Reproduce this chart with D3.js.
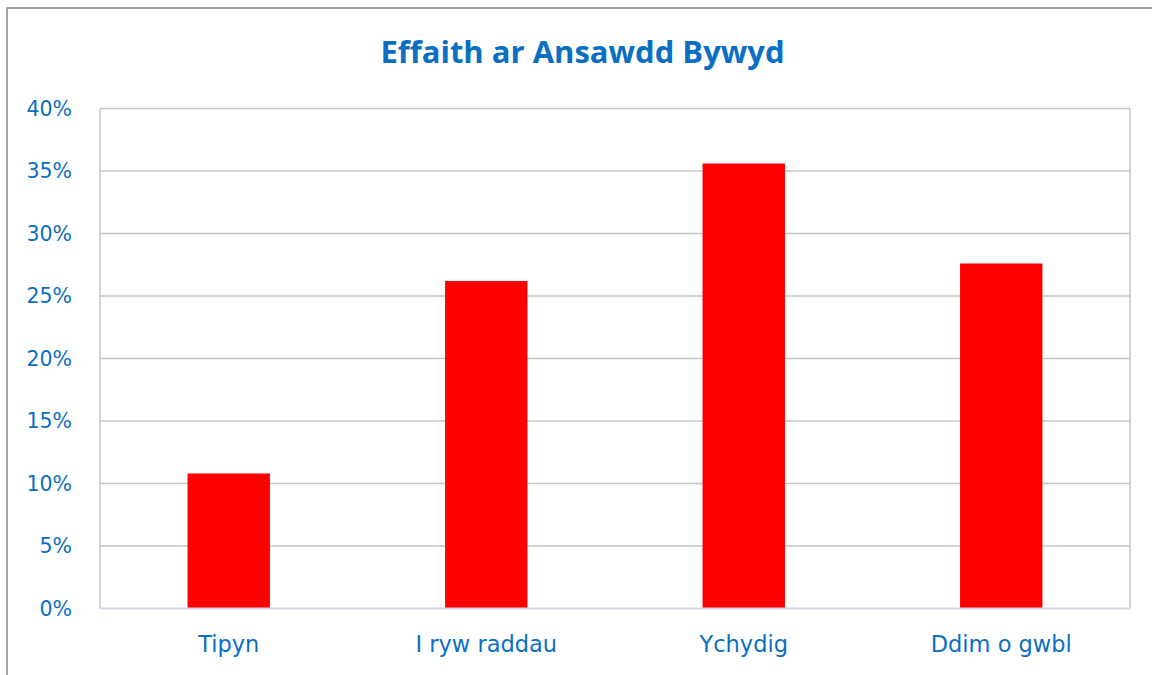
<!DOCTYPE html>
<html><head><meta charset="utf-8">
<script src="https://cdn.jsdelivr.net/npm/d3@7"></script>
<style>body{margin:0;background:#fff}svg{display:block}</style>
</head><body>
<script>
const title = "Effaith ar Ansawdd Bywyd";
const categories = ["Tipyn", "I ryw raddau", "Ychydig", "Ddim o gwbl"];
const values = [0.108, 0.262, 0.356, 0.276];
const yTicks = [0, 0.05, 0.10, 0.15, 0.20, 0.25, 0.30, 0.35, 0.40];

const W = 1152, H = 675;
const m = {left: 100, right: 22, top: 108.5, bottom: 66.5};
const blue = "#0a6fc2";
const labelFont = "'DejaVu Sans', sans-serif";
const svg = d3.select("body").append("svg").attr("width", W).attr("height", H);

// outer frame
svg.append("path").attr("d", `M7,${H} V8 H${W}`).attr("fill", "none")
  .attr("stroke", "#888").attr("stroke-width", 1.5);

const x = d3.scaleBand().domain(categories).range([m.left, W - m.right])
  .paddingInner(0.68).paddingOuter(0.34);
const y = d3.scaleLinear().domain([0, 0.40]).range([H - m.bottom, m.top]);

// gridlines
svg.append("g").selectAll("line").data(yTicks.slice(1)).join("line")
  .attr("x1", m.left).attr("x2", W - m.right)
  .attr("y1", d => y(d)).attr("y2", d => y(d))
  .attr("stroke", "#c4c4c4").attr("stroke-width", 1.5);
// plot sides
svg.append("line").attr("x1", m.left).attr("x2", m.left).attr("y1", y(0.40)).attr("y2", y(0))
  .attr("stroke", "#c4c4c4").attr("stroke-width", 1.5);
svg.append("line").attr("x1", W - m.right).attr("x2", W - m.right).attr("y1", y(0.40)).attr("y2", y(0))
  .attr("stroke", "#c4c4c4").attr("stroke-width", 1.5);

// bars
svg.append("g").selectAll("rect").data(values).join("rect")
  .attr("x", (d, i) => x(categories[i])).attr("width", x.bandwidth())
  .attr("y", d => y(d)).attr("height", d => y(0) - y(d))
  .attr("fill", "#ff0000");

// baseline
svg.append("line").attr("x1", m.left).attr("x2", W - m.right).attr("y1", y(0)).attr("y2", y(0))
  .attr("stroke", "#d6d4ee").attr("stroke-width", 2);

// y axis
const yAxis = d3.axisLeft(y).tickValues(yTicks).tickFormat(d3.format(".0%")).tickSize(0).tickPadding(28);
const ya = svg.append("g").attr("transform", `translate(${m.left},0)`).call(yAxis);
ya.select(".domain").remove();
ya.selectAll("text").attr("fill", blue).style("font-family", labelFont).style("font-size", "20.5px");

// x axis
const xAxis = d3.axisBottom(x).tickSize(0).tickPadding(28);
const xa = svg.append("g").attr("transform", `translate(0,${y(0)})`).call(xAxis);
xa.select(".domain").remove();
xa.selectAll("text").attr("fill", blue).style("font-family", labelFont).style("font-size", "22.5px");

// title
svg.append("text").attr("x", 582.5).attr("y", 63)
  .attr("text-anchor", "middle").attr("fill", blue)
  .style("font-family", "'Open Sans', sans-serif").style("font-weight", "bold").style("font-size", "31px")
  .text(title);
</script>
</body></html>
